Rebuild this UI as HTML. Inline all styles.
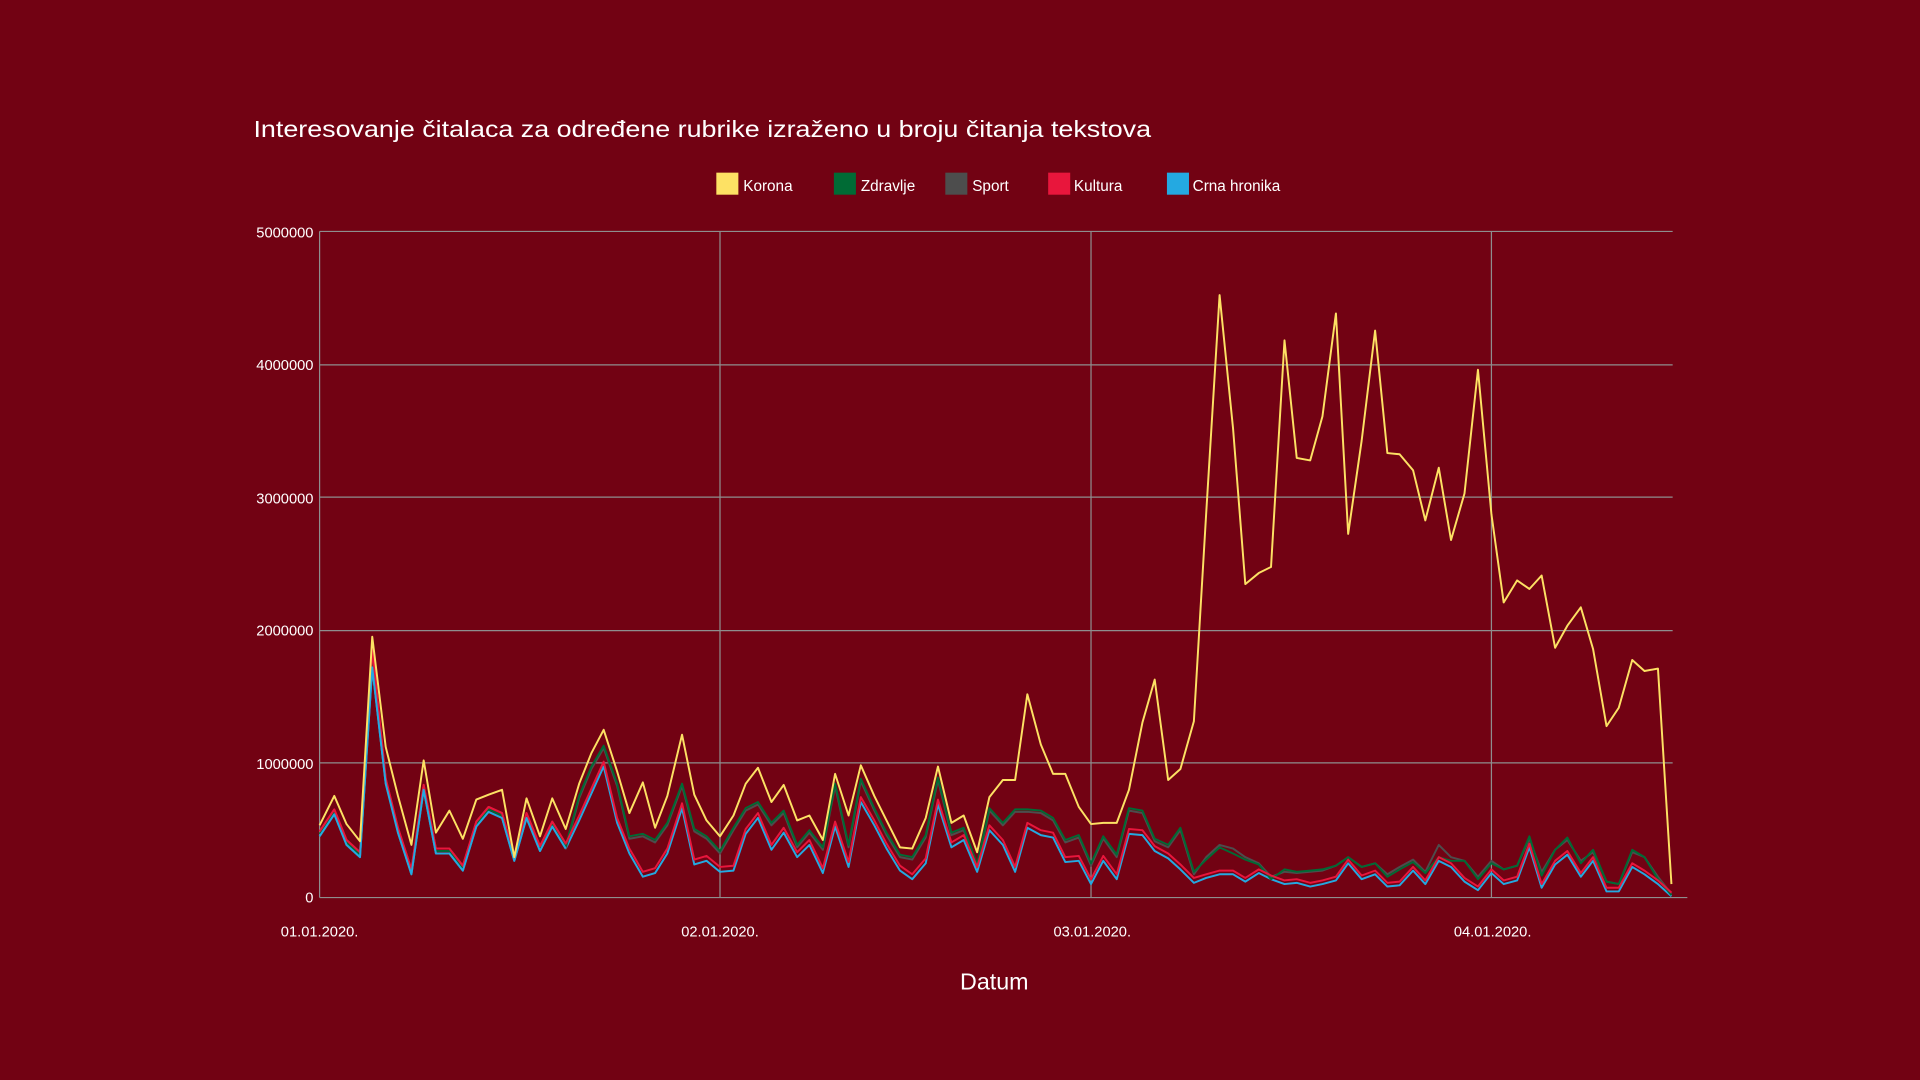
<!DOCTYPE html>
<html><head><meta charset="utf-8"><style>
html,body{margin:0;padding:0;background:#720213;}
svg{display:block;font-family:"Liberation Sans",Arial,sans-serif;}
</style></head><body>
<svg id="s" width="1920" height="1080" viewBox="0 0 1568 882" xmlns="http://www.w3.org/2000/svg">
<rect width="1568" height="882" fill="#720213"/>
<text x="207" y="112" font-size="19" fill="#fff" textLength="733" lengthAdjust="spacingAndGlyphs">Interesovanje čitalaca za određene rubrike izraženo u broju čitanja tekstova</text>
<g font-size="12.5" fill="#fff">
<rect x="585" y="141" width="18" height="18" fill="#fde164"/><text x="607" y="156">Korona</text>
<rect x="681" y="141" width="18" height="18" fill="#006b35"/><text x="703" y="156">Zdravlje</text>
<rect x="772" y="141" width="18" height="18" fill="#4d4d4d"/><text x="794" y="156">Sport</text>
<rect x="856" y="141" width="18" height="18" fill="#e8163c"/><text x="877" y="156">Kultura</text>
<rect x="953" y="141" width="18" height="18" fill="#24a9e1"/><text x="974" y="156">Crna hronika</text>
</g>
<g stroke="#8e8e8e" stroke-width="1">
<line x1="261" y1="189" x2="1366" y2="189"/>
<line x1="261" y1="298" x2="1366" y2="298"/>
<line x1="261" y1="406" x2="1366" y2="406"/>
<line x1="261" y1="515" x2="1366" y2="515"/>
<line x1="261" y1="623" x2="1366" y2="623"/>
<line x1="261" y1="733" x2="1378" y2="733"/>
<line x1="261" y1="189" x2="261" y2="733"/>
<line x1="588" y1="189" x2="588" y2="733"/>
<line x1="891" y1="189" x2="891" y2="733"/>
<line x1="1218" y1="189" x2="1218" y2="733"/>
</g>
<g font-size="12" fill="#fff" text-anchor="end">
<text x="256" y="194">5000000</text><text x="256" y="302">4000000</text><text x="256" y="411">3000000</text>
<text x="256" y="519">2000000</text><text x="256" y="628">1000000</text><text x="256" y="737">0</text>
</g>
<g font-size="12" fill="#fff" text-anchor="middle">
<text x="261" y="765">01.01.2020.</text><text x="588" y="765">02.01.2020.</text>
<text x="892" y="765">03.01.2020.</text><text x="1219" y="765">04.01.2020.</text>
</g>
<text x="812" y="808" font-size="19" fill="#fff" text-anchor="middle">Datum</text>
<g id="lines" fill="none" stroke-width="1.6" stroke-linejoin="round"></g>
</svg>
<script>
var X=[261,273,283,294,304,315,325,336,346,356,367,378,389,399,410,420,430,441,451,462,473,483,493,504,514,525,535,545,557,567,577,588,599,609,619,630,640,651,661,672,682,693,703,714,724,735,745,756,766,777,787,798,808,819,829,839,850,860,870,881,891,901,912,922,933,943,954,964,975,985,996,1007,1017,1028,1038,1049,1059,1070,1080,1091,1101,1112,1123,1133,1143,1154,1164,1175,1185,1196,1207,1218,1228,1239,1249,1259,1270,1280,1291,1301,1312,1322,1333,1343,1354,1365];
var K=[674,650,673,687,520,610,650,690,621,680,662,685,653,649,645,700,652,683,652,677,640,615,596,630,664,639,676,650,600,649,670,683,666,640,627,655,641,670,666,686,632,666,625,650,670,692,693,668,626,672,666,696,651,637,637,567,608,632,632,659,673,672,672,645,590,555,637,628,589,420,241,350,477,468,463,278,374,376,340,256,436,360,270,370,371,384,425,382,441,403,302,420,492,474,481,470,529,511,496,530,593,578,539,548,546,722];
var B=[683,665,690,700,545,640,680,714,645,697,697,711,675,663,668,703,668,695,675,693,670,648,626,672,697,716,713,697,660,706,703,712,711,681,668,694,680,700,690,713,675,708,655,674,693,711,718,705,657,692,686,712,678,690,712,676,682,684,704,703,722,703,718,681,682,695,701,710,721,717,714,714,720,713,718,722,721,724,722,719,705,718,714,724,723,711,722,703,708,720,727,713,722,719,692,725,706,698,716,703,728,728,708,714,722,732];
var R=B.map(function(y,i){return y-(i==4?15:(i<69?4:3));});
var Gt=[650,626,609,640,683,681,686,672,640,677,683,695,676,660,655,672,662,690,678,692,640,690,636,660,680,698,700,682,635,680,676,706,660,672,661,661,662,668,686,682,705,683,698,660,662,685,690,676,712,702,692,697,702,706,718,710,712,711,710,707,700,708,705,716,710,704,713,700,703,703,718,705,710,707,683,715,694,684,705,694,720,722,694,700,718,731];
var G=R.slice(0,20).map(function(y){return y+2;}).concat(Gt);
var St=[700,690,693,700,705,716,712,713,712,711,707,700,708,705,714,708,702,712,690,700,703,716,703,710,707,685,712,694,686,703,696,720,722,696,700,716,730];
var S=G.slice(0,69).map(function(y){return y+2;}).concat(St);
function pl(a,c,n){var p=[];n=n||X.length;for(var i=0;i<n&&i<a.length;i++)p.push(X[i]+","+a[i]);
var e=document.createElementNS("http://www.w3.org/2000/svg","polyline");e.setAttribute("points",p.join(" "));e.setAttribute("stroke",c);document.getElementById("lines").appendChild(e);}
pl(B,"#24a9e1");pl(S,"#4d4d4d");pl(G,"#006b35");pl(R,"#e8163c",20);pl(R,"#e8163c");pl(B,"#24a9e1",20);pl(K,"#fde164");
</script>
</body></html>
